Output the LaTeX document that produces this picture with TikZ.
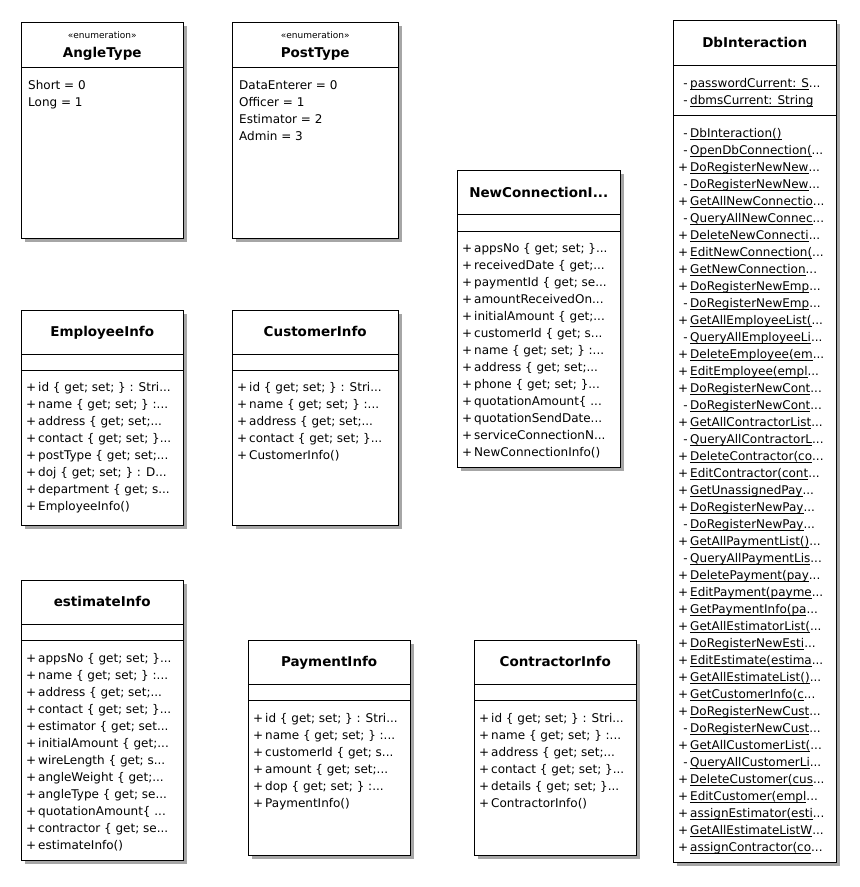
\documentclass[tikz,border=0pt]{standalone}
\usepackage{fontspec}
\setmainfont{DejaVu Sans}
\usetikzlibrary{positioning, shadows}

% visibility marks and underlined (static) members
\newcommand{\pub}{\makebox[12pt][r]{+\kern2pt}}
\newcommand{\pri}{\makebox[12pt][r]{-\kern2.5pt}}
\newcommand{\ulname}[1]{\setbox0\hbox{#1}\rlap{\rule[-2.2pt]{\wd0}{0.6pt}}\box0}

\tikzset{
  classbox/.style={draw=black, fill=white, anchor=north west, inner sep=0pt,
    drop shadow={shadow xshift=4pt, shadow yshift=-4pt, fill=black!35, opacity=1}},
  title/.style={anchor=base, inner sep=0pt, font=\bfseries\fontsize{13.5}{16}\selectfont},
  stereo/.style={anchor=base, inner sep=0pt, font=\fontsize{9}{10}\selectfont},
  % items are placed by their top, 10pt above the first baseline
  items/.style={anchor=north west, align=left, inner sep=0pt, font=\fontsize{12}{17}\selectfont,
    execute at begin node={\rule{0pt}{10pt}}},
}

\begin{document}
\begin{tikzpicture}[x=1pt, y=-1pt]
\useasboundingbox (0,0) rectangle (860,887);

% enumerations
\node[classbox, minimum width=162pt, minimum height=216pt] (angle) at (21,22) {};
\node[stereo] at (angle.north |- 0,38) {«enumeration»};
\node[title] at (angle.north |- 0,57) {AngleType};
\draw (angle.west |- 0,67) -- (angle.east |- 0,67);
\node[items] at (28,80.5) {Short = 0\\Long = 1};

\node[classbox, minimum width=166pt, minimum height=216pt] (post) at (232,22) {};
\node[stereo] at (post.north |- 0,38) {«enumeration»};
\node[title] at (post.north |- 0,57) {PostType};
\draw (post.west |- 0,67) -- (post.east |- 0,67);
\node[items] at (239,80.5) {DataEnterer = 0\\Officer = 1\\Estimator = 2\\Admin = 3};

% info classes
\node[classbox, minimum width=163pt, minimum height=297pt] (newconn) at (457,170) {};
\node[title] at (newconn.north |- 0,197) {NewConnectionI...};
\draw (newconn.west |- 0,214) -- (newconn.east |- 0,214);
\draw (newconn.west |- 0,231) -- (newconn.east |- 0,231);
\node[items] at (462,243.5) {\pub appsNo \{ get; set; \}...\\
  \pub receivedDate \{ get;...\\
  \pub paymentId \{ get; se...\\
  \pub amountReceivedOn...\\
  \pub initialAmount \{ get;...\\
  \pub customerId \{ get; s...\\
  \pub name \{ get; set; \} :...\\
  \pub address \{ get; set;...\\
  \pub phone \{ get; set; \}...\\
  \pub quotationAmount\{ ...\\
  \pub quotationSendDate...\\
  \pub serviceConnectionN...\\
  \pub NewConnectionInfo()};

\node[classbox, minimum width=162pt, minimum height=215pt] (employee) at (21,310) {};
\node[title] at (employee.north |- 0,336) {EmployeeInfo};
\draw (employee.west |- 0,354) -- (employee.east |- 0,354);
\draw (employee.west |- 0,370) -- (employee.east |- 0,370);
\node[items] at (26,382.5) {\pub id \{ get; set; \} : Stri...\\
  \pub name \{ get; set; \} :...\\
  \pub address \{ get; set;...\\
  \pub contact \{ get; set; \}...\\
  \pub postType \{ get; set;...\\
  \pub doj \{ get; set; \} : D...\\
  \pub department \{ get; s...\\
  \pub EmployeeInfo()};

\node[classbox, minimum width=166pt, minimum height=215pt] (customer) at (232,310) {};
\node[title] at (customer.north |- 0,336) {CustomerInfo};
\draw (customer.west |- 0,354) -- (customer.east |- 0,354);
\draw (customer.west |- 0,370) -- (customer.east |- 0,370);
\node[items] at (237,382.5) {\pub id \{ get; set; \} : Stri...\\
  \pub name \{ get; set; \} :...\\
  \pub address \{ get; set;...\\
  \pub contact \{ get; set; \}...\\
  \pub CustomerInfo()};

\node[classbox, minimum width=162pt, minimum height=280pt] (estimate) at (21,580) {};
\node[title] at (estimate.north |- 0,606) {estimateInfo};
\draw (estimate.west |- 0,624) -- (estimate.east |- 0,624);
\draw (estimate.west |- 0,640) -- (estimate.east |- 0,640);
\node[items] at (26,653.5) {\pub appsNo \{ get; set; \}...\\
  \pub name \{ get; set; \} :...\\
  \pub address \{ get; set;...\\
  \pub contact \{ get; set; \}...\\
  \pub estimator \{ get; set...\\
  \pub initialAmount \{ get;...\\
  \pub wireLength \{ get; s...\\
  \pub angleWeight \{ get;...\\
  \pub angleType \{ get; se...\\
  \pub quotationAmount\{ ...\\
  \pub contractor \{ get; se...\\
  \pub estimateInfo()};

\node[classbox, minimum width=162pt, minimum height=215pt] (payment) at (248,640) {};
\node[title] at (payment.north |- 0,666) {PaymentInfo};
\draw (payment.west |- 0,684) -- (payment.east |- 0,684);
\draw (payment.west |- 0,700) -- (payment.east |- 0,700);
\node[items] at (253,713.5) {\pub id \{ get; set; \} : Stri...\\
  \pub name \{ get; set; \} :...\\
  \pub customerId \{ get; s...\\
  \pub amount \{ get; set;...\\
  \pub dop \{ get; set; \} :...\\
  \pub PaymentInfo()};

\node[classbox, minimum width=162pt, minimum height=215pt] (contractor) at (474,640) {};
\node[title] at (contractor.north |- 0,666) {ContractorInfo};
\draw (contractor.west |- 0,684) -- (contractor.east |- 0,684);
\draw (contractor.west |- 0,700) -- (contractor.east |- 0,700);
\node[items] at (479,713.5) {\pub id \{ get; set; \} : Stri...\\
  \pub name \{ get; set; \} :...\\
  \pub address \{ get; set;...\\
  \pub contact \{ get; set; \}...\\
  \pub details \{ get; set; \}...\\
  \pub ContractorInfo()};

% data access class
\node[classbox, minimum width=163pt, minimum height=842pt] (dbint) at (673,20) {};
\node[title] at (dbint.north |- 0,47) {DbInteraction};
\draw (dbint.west |- 0,65) -- (dbint.east |- 0,65);
\node[items] at (678,78.5) {\pri\ulname{passwordCurrent: S}...\\
  \pri\ulname{dbmsCurrent: String}};
\draw (dbint.west |- 0,115) -- (dbint.east |- 0,115);
\node[items] at (678,128.5) {\pri\ulname{DbInteraction()}\\
  \pri\ulname{OpenDbConnection(}...\\
  \pub\ulname{DoRegisterNewNew}...\\
  \pri\ulname{DoRegisterNewNew}...\\
  \pub\ulname{GetAllNewConnectio}...\\
  \pri\ulname{QueryAllNewConnec}...\\
  \pub\ulname{DeleteNewConnecti}...\\
  \pub\ulname{EditNewConnection(}...\\
  \pub\ulname{GetNewConnection}...\\
  \pub\ulname{DoRegisterNewEmp}...\\
  \pri\ulname{DoRegisterNewEmp}...\\
  \pub\ulname{GetAllEmployeeList(}...\\
  \pri\ulname{QueryAllEmployeeLi}...\\
  \pub\ulname{DeleteEmployee(em}...\\
  \pub\ulname{EditEmployee(empl}...\\
  \pub\ulname{DoRegisterNewCont}...\\
  \pri\ulname{DoRegisterNewCont}...\\
  \pub\ulname{GetAllContractorList}...\\
  \pri\ulname{QueryAllContractorL}...\\
  \pub\ulname{DeleteContractor(co}...\\
  \pub\ulname{EditContractor(cont}...\\
  \pub\ulname{GetUnassignedPay}...\\
  \pub\ulname{DoRegisterNewPay}...\\
  \pri\ulname{DoRegisterNewPay}...\\
  \pub\ulname{GetAllPaymentList()}...\\
  \pri\ulname{QueryAllPaymentLis}...\\
  \pub\ulname{DeletePayment(pay}...\\
  \pub\ulname{EditPayment(payme}...\\
  \pub\ulname{GetPaymentInfo(pa}...\\
  \pub\ulname{GetAllEstimatorList(}...\\
  \pub\ulname{DoRegisterNewEsti}...\\
  \pub\ulname{EditEstimate(estima}...\\
  \pub\ulname{GetAllEstimateList()}...\\
  \pub\ulname{GetCustomerInfo(c}...\\
  \pub\ulname{DoRegisterNewCust}...\\
  \pri\ulname{DoRegisterNewCust}...\\
  \pub\ulname{GetAllCustomerList(}...\\
  \pri\ulname{QueryAllCustomerLi}...\\
  \pub\ulname{DeleteCustomer(cus}...\\
  \pub\ulname{EditCustomer(empl}...\\
  \pub\ulname{assignEstimator(esti}...\\
  \pub\ulname{GetAllEstimateListW}...\\
  \pub\ulname{assignContractor(co}...};

\end{tikzpicture}
\end{document}
